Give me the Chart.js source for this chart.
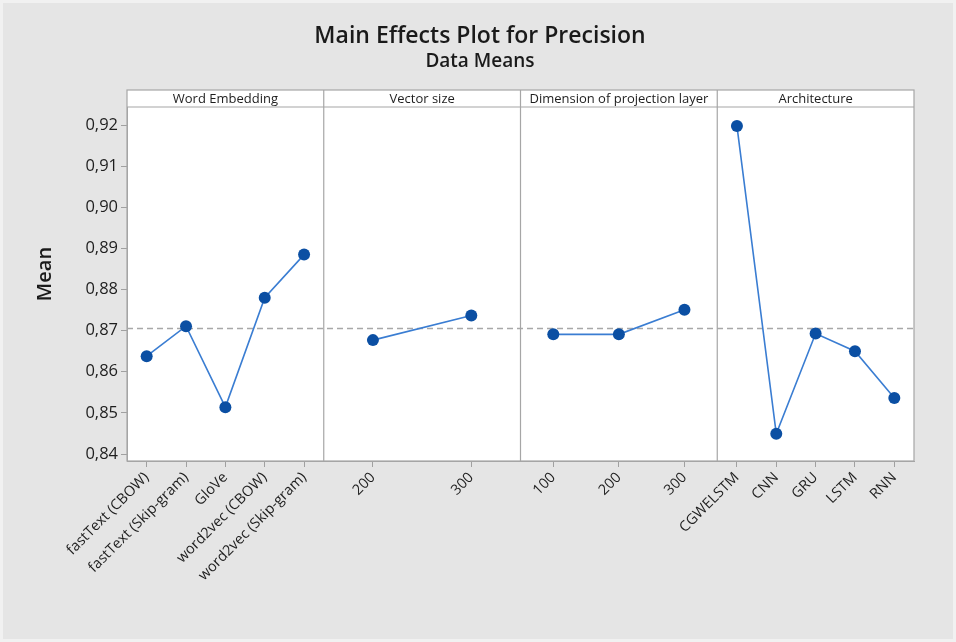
<!DOCTYPE html>
<html>
<head>
<meta charset="utf-8">
<title>Main Effects Plot for Precision</title>
<script src="https://cdn.jsdelivr.net/npm/chart.js@4/dist/chart.umd.min.js"></script>
<style>
  html, body { margin: 0; padding: 0; background: #e5e5e5; }
  #wrap { width: 956px; height: 642px; }
</style>
</head>
<body>
<div id="wrap"><canvas id="chart" width="956" height="642"></canvas></div>
<script>
// Factors and their level means (precision)
const factors = ['Word Embedding', 'Vector size', 'Dimension of projection layer', 'Architecture'];

const wordEmbeddingLevels = ['fastText (CBOW)', 'fastText (Skip-gram)', 'GloVe', 'word2vec (CBOW)', 'word2vec (Skip-gram)'];
const wordEmbeddingMeans  = [0.8638, 0.8711, 0.8514, 0.8780, 0.8885];

const vectorSizeLevels = ['200', '300'];
const vectorSizeMeans  = [0.8677, 0.8737];

const projectionLevels = ['100', '200', '300'];
const projectionMeans  = [0.8691, 0.8691, 0.8751];

const architectureLevels = ['CGWELSTM', 'CNN', 'GRU', 'LSTM', 'RNN'];
const architectureMeans  = [0.9198, 0.8449, 0.8693, 0.8650, 0.8536];

const overallMean = 0.8705;
const yTickValues = [0.84, 0.85, 0.86, 0.87, 0.88, 0.89, 0.90, 0.91, 0.92];

const panelLevels = [wordEmbeddingLevels, vectorSizeLevels, projectionLevels, architectureLevels];
const panelMeans  = [wordEmbeddingMeans, vectorSizeMeans, projectionMeans, architectureMeans];

// Each panel occupies one unit of the x scale; levels sit at the centres of equal slots
const xTickPositions = [];
const xTickLabels = [];
const datasets = panelLevels.map((levels, p) => {
  const pts = levels.map((lab, j) => {
    const x = p + (j + 0.5) / levels.length;
    xTickPositions.push(x);
    xTickLabels.push(lab);
    return { x: x, y: panelMeans[p][j] };
  });
  return {
    label: factors[p],
    data: pts,
    borderColor: '#3a7dd2',
    borderWidth: 1.6,
    pointBackgroundColor: '#0b4fa3',
    pointBorderColor: '#0b4fa3',
    pointRadius: 6,
    pointBorderWidth: 0,
    tension: 0,
    fill: false
  };
});

const FONT = '"Open Sans", "Noto Sans", sans-serif';
const HEADER_H = 17;

const panelPlugin = {
  id: 'panels',
  beforeDraw(chart) {
    const { ctx, chartArea: a, width, height } = chart;
    ctx.save();
    ctx.fillStyle = '#e5e5e5';
    ctx.fillRect(0, 0, width, height);
    ctx.strokeStyle = '#f1f1f1';
    ctx.lineWidth = 3;
    ctx.strokeRect(1.5, 1.5, width - 3, height - 3);
    ctx.fillStyle = '#ffffff';
    ctx.fillRect(a.left, a.top - HEADER_H, a.right - a.left, a.bottom - a.top + HEADER_H);
    // titles
    ctx.fillStyle = '#1a1a1a';
    ctx.textAlign = 'center';
    ctx.textBaseline = 'middle';
    ctx.font = '600 23px ' + FONT;
    ctx.fillText('Main Effects Plot for Precision', 480, 36);
    ctx.font = '600 19px ' + FONT;
    ctx.fillText('Data Means', 480, 62);
    // y axis title
    ctx.translate(45, 274);
    ctx.rotate(-Math.PI / 2);
    ctx.font = '600 20px ' + FONT;
    ctx.fillText('Mean', 0, 0);
    ctx.restore();
  },
  beforeDatasetsDraw(chart) {
    const { ctx, chartArea: a, scales } = chart;
    const y = scales.y.getPixelForValue(overallMean);
    ctx.save();
    ctx.strokeStyle = '#a8a8a8';
    ctx.lineWidth = 1.5;
    ctx.setLineDash([6, 4]);
    ctx.beginPath();
    ctx.moveTo(a.left, y);
    ctx.lineTo(a.right, y);
    ctx.stroke();
    ctx.restore();
  },
  afterDraw(chart) {
    const { ctx, chartArea: a, scales } = chart;
    const top = a.top - HEADER_H;
    ctx.save();
    ctx.strokeStyle = '#a6a6a6';
    ctx.lineWidth = 1.2;
    ctx.strokeRect(a.left, top, a.right - a.left, a.bottom - top);
    ctx.beginPath();
    ctx.moveTo(a.left, a.top);
    ctx.lineTo(a.right, a.top);
    for (let p = 1; p < factors.length; p++) {
      const x = scales.x.getPixelForValue(p);
      ctx.moveTo(x, top);
      ctx.lineTo(x, a.bottom);
    }
    ctx.stroke();
    ctx.fillStyle = '#1e1e1e';
    ctx.font = '13px ' + FONT;
    ctx.textAlign = 'center';
    ctx.textBaseline = 'middle';
    factors.forEach((f, p) => {
      const cx = (scales.x.getPixelForValue(p) + scales.x.getPixelForValue(p + 1)) / 2;
      ctx.fillText(f, cx, top + HEADER_H / 2 + 0.5);
    });
    ctx.restore();
  }
};

new Chart(document.getElementById('chart'), {
  type: 'line',
  data: { datasets: datasets },
  plugins: [panelPlugin],
  options: {
    responsive: false,
    animation: false,
    layout: { padding: { top: 107, right: 42, left: 0, bottom: 0 } },
    plugins: { legend: { display: false }, tooltip: { enabled: false } },
    scales: {
      x: {
        type: 'linear',
        min: 0,
        max: factors.length,
        afterBuildTicks(scale) {
          scale.ticks = xTickPositions.map(v => ({ value: v }));
        },
        afterFit(scale) { scale.height = 181; },
        ticks: {
          autoSkip: false,
          minRotation: 45,
          maxRotation: 45,
          padding: 2,
          color: '#1e1e1e',
          font: { family: FONT, size: 14.5 },
          callback: (v, i) => xTickLabels[i]
        },
        grid: { drawOnChartArea: false, drawTicks: true, tickLength: 6, color: '#a0a0a0' },
        border: { display: true, color: '#a6a6a6' }
      },
      y: {
        min: 0.8383,
        max: 0.9244,
        afterBuildTicks(scale) {
          scale.ticks = yTickValues.map(v => ({ value: v }));
        },
        afterFit(scale) { scale.width = 127; },
        ticks: {
          padding: 3,
          color: '#1e1e1e',
          font: { family: FONT, size: 16.5 },
          callback: v => v.toFixed(2).replace('.', ',')
        },
        grid: { drawOnChartArea: false, drawTicks: true, tickLength: 6, color: '#a0a0a0' },
        border: { display: true, color: '#a6a6a6' }
      }
    }
  }
});
</script>
</body>
</html>
